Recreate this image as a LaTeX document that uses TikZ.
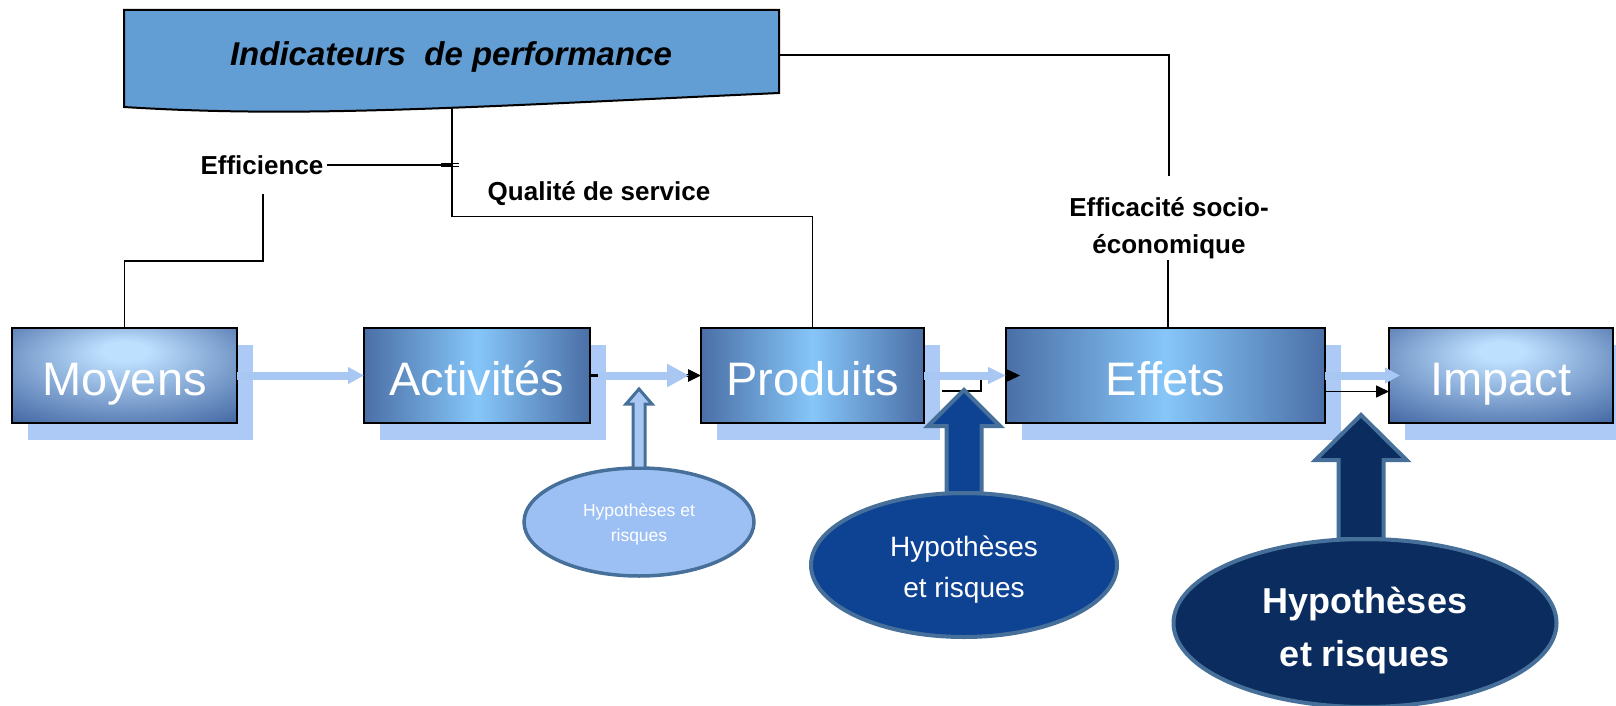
\documentclass[tikz,border=0pt]{standalone}
\usepackage{fontspec}
\setmainfont{Liberation Sans}
\usetikzlibrary{arrows.meta,shapes.geometric,backgrounds}
\definecolor{topfill}{HTML}{629ED3}
\definecolor{shadowc}{HTML}{ADCAF6}
\definecolor{arrowc}{HTML}{A9C7F3}
\definecolor{boxdark}{HTML}{4A6FA6}
\definecolor{boxlight}{HTML}{86C6F9}
\definecolor{moydark}{HTML}{3F63A0}
\definecolor{moylight}{HTML}{BEE0FF}
\definecolor{hb}{HTML}{46709A}
\definecolor{hone}{HTML}{9DC0F4}
\definecolor{htwo}{HTML}{0E4394}
\definecolor{hthree}{HTML}{0B2C5E}
\pgfdeclarehorizontalshading{midshade}{100bp}{color(0bp)=(boxdark); color(25bp)=(boxdark); color(50bp)=(boxlight); color(75bp)=(boxdark); color(100bp)=(boxdark)}
\pgfdeclareradialshading{moyshade}{\pgfpoint{0bp}{14bp}}{color(0bp)=(moylight); color(5bp)=(moylight); color(40bp)=(moydark); color(60bp)=(moydark)}
\begin{document}
\begin{tikzpicture}[x=1pt,y=-1pt,
  bigbox/.style={rectangle, draw=black, line width=2pt, minimum height=95pt, text=white,
     font=\fontsize{47}{50}\selectfont, text height=39pt, text depth=0pt, inner sep=0pt, outer sep=0pt},
  radbox/.style={shade, shading=moyshade},
  midbox/.style={shade, shading=midshade},
  conn/.style={draw=black, line width=1.5pt},
  blk/.style={draw=black, line width=1.5pt, -{Triangle[length=13pt,width=12pt]}},
  lba/.style={draw=arrowc, line width=8pt},
  lbl/.style={font=\fontsize{26}{37}\selectfont\bfseries, inner sep=3pt},
  hyp/.style={ellipse, draw=hb, inner sep=0pt, outer sep=0pt},
  htext/.style={text=white, align=center, inner sep=0pt},
  harrow/.style={draw=hb, line join=miter}
]
\useasboundingbox (0,0) rectangle (1616,706);

% top banner
\draw[fill=topfill, line width=2pt] (124,10) -- (779,10) -- (779,93) .. controls (450,108) and (300,118) .. (124,107) -- cycle;
\node[font=\fontsize{33}{40}\selectfont\bfseries\itshape] (ind) at (451,57) {Indicateurs\ \ de performance};
\coordinate (indbot) at (452,108.5);
\coordinate (indright) at (779,55);

% main boxes
\node[bigbox, radbox, minimum width=225pt] (moy) at (124.5,375.5) {Moyens};
\node[bigbox, midbox, minimum width=226pt] (act) at (477,375.5) {Activités};
\node[bigbox, midbox, minimum width=223pt] (prod) at (812.5,375.5) {Produits};
\node[bigbox, midbox, minimum width=319pt] (effets) at (1165.5,375.5) {Effets};
\node[bigbox, radbox, minimum width=224pt] (imp) at (1501,375.5) {Impact};

\begin{scope}[on background layer]
\foreach \n in {moy,act,prod,effets,imp}
  \fill[shadowc] ([shift={(16,17)}]\n.south west) rectangle ([shift={(16,17)}]\n.north east);
\end{scope}

% black connectors
\draw[blk, line width=3pt, -{Triangle[length=13pt,width=12pt]}] (act.east) -- (prod.west);
\coordinate (pbr) at (942,391);
\draw[blk] (pbr) -- (981,391) |- ([xshift=14pt]effets.west);
\draw[blk] ([yshift=-16pt]effets.east) -- ([yshift=-16pt]imp.west);

% light blue arrows
\draw[lba, -{Triangle[length=16pt,width=16pt]}] (moy.east) -- (act.west);
\draw[lba, -{Triangle[length=22pt,width=22pt]}] ([xshift=8pt]act.east) -- ([xshift=-12pt]prod.west);
\draw[lba, -{Triangle[length=18pt,width=16pt]}] (prod.east) -- (effets.west);
\draw[lba, -{Triangle[length=15pt,width=15pt]}] (effets.east) -- ([xshift=11pt]imp.west);

% indicator lines
\draw[conn] (indbot) -- ++(0,108) -| (prod.north);
\node[lbl] (effic) at (262,165) {Efficience};
\coordinate (effj) at (452,165);
\draw[conn] (effic.east) -- (effj);
\draw[line width=1pt] (441,163.5) -- (459,163.5) (441,166.5) -- (459,166.5);
\coordinate (effb) at (263,194);
\draw[conn] (effb) -- (263,261) -| (moy.north);
\node[lbl] (qual) at (599,194) {Qualité de service};
\node[lbl, align=center] (eco) at (1169,228) {Efficacité socio-\\économique};
\coordinate (ecot) at (1169,176);
\draw[conn] (indright) -| (ecot);
\coordinate (ecob) at (1168,260);
\draw[conn] (ecob) -- (ecob |- effets.north);

% hypotheses
\node[hyp, fill=hone, line width=3.5pt, minimum width=230pt, minimum height=108pt] (h1) at (639,522) {};
\node[htext, font=\fontsize{17.5}{25}\selectfont] (h1t) at ([yshift=-2pt]h1.center) {Hypothèses et\\risques};
\node[hyp, fill=htwo, line width=4pt, minimum width=306pt, minimum height=144pt] (h2) at (964,565) {};
\node[htext, font=\fontsize{28}{41}\selectfont] (h2t) at ([yshift=-5pt]h2.center) {Hypothèses\\et risques};
\node[hyp, fill=hthree, line width=4pt, minimum width=383pt, minimum height=168pt] (h3) at (1365,623) {};
\node[htext, font=\fontsize{36}{53}\selectfont\bfseries] (h3t) at ([yshift=-8pt]h3.center) {Hypothèses\\et risques};

\draw[harrow, fill=arrowc, line width=3pt] ([xshift=-6pt]h1.north) -- ++(0,-64) -- ++(-7,0) -- ++(13,-15) -- ++(13,15) -- ++(-7,0) -- ++(0,64) -- cycle;
\draw[harrow, fill=htwo, line width=4pt] ([xshift=-17.5pt]h2.north) -- ++(0,-67) -- ++(-18.5,0) -- ++(36,-36) -- ++(36,36) -- ++(-18.5,0) -- ++(0,67) -- cycle;
\draw[harrow, fill=hthree, line width=4pt] ([xshift=-26.5pt]h3.north) -- ++(0,-79) -- ++(-23,0) -- ++(45.5,-45) -- ++(45.5,45) -- ++(-23,0) -- ++(0,79) -- cycle;
\end{tikzpicture}
\end{document}
